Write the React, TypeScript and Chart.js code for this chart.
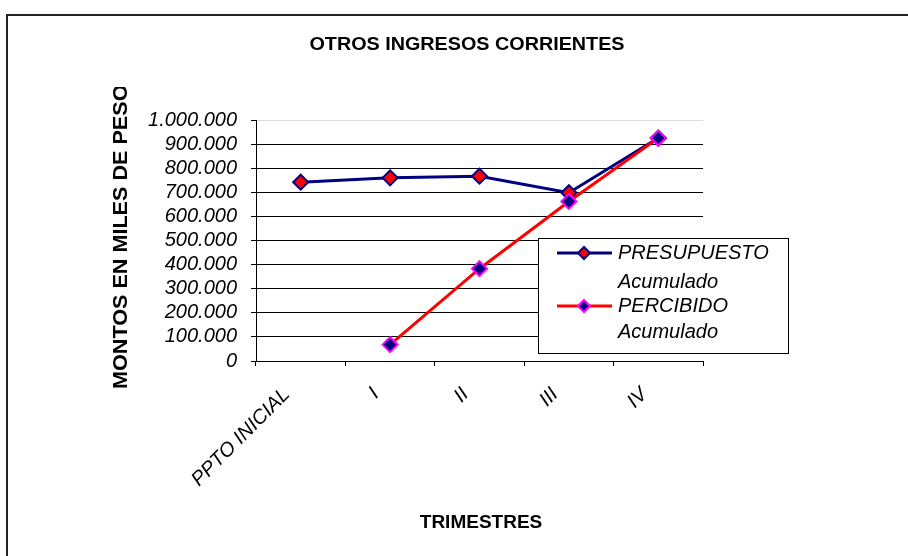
import React, { useEffect, useRef } from 'react';
import { Chart, registerables } from 'chart.js';

Chart.register(...registerables);

const categories = ['PPTO INICIAL', 'I', 'II', 'III', 'IV'];
const presupuesto = [742000, 760000, 767000, 698000, 925000];
const percibido = [null, 68000, 383000, 662000, 925000];
const seriesNames = ['PRESUPUESTO Acumulado', 'PERCIBIDO Acumulado'];
const legendLines = [
  ['PRESUPUESTO', 'Acumulado'],
  ['PERCIBIDO', 'Acumulado'],
];
const chartTitle = 'OTROS INGRESOS CORRIENTES';
const xTitle = 'TRIMESTRES';
const yTitle = 'MONTOS EN MILES DE PESOS';

const FONT = '"Liberation Sans", Arial, sans-serif';
const NAVY = '#000080';
const RED = '#FF0000';
const MAGENTA = '#FF00FF';

function fmt(v: number): string {
  const s = Math.round(v).toString();
  return s.replace(/\B(?=(\d{3})+(?!\d))/g, '.');
}

function diamond(ctx: CanvasRenderingContext2D, x: number, y: number, r: number, fill: string, stroke: string) {
  ctx.beginPath();
  ctx.moveTo(x - r, y);
  ctx.lineTo(x, y - r);
  ctx.lineTo(x + r, y);
  ctx.lineTo(x, y + r);
  ctx.closePath();
  ctx.fillStyle = fill;
  ctx.fill();
  ctx.lineWidth = 2;
  ctx.strokeStyle = stroke;
  ctx.stroke();
}

const deco = {
  id: 'deco',
  beforeDraw(chart: any) {
    const ctx = chart.ctx as CanvasRenderingContext2D;
    ctx.save();
    ctx.fillStyle = '#fff';
    ctx.fillRect(0, 0, chart.width, chart.height);
    ctx.fillStyle = '#222';
    ctx.fillRect(6, 14, chart.width - 6, 2);
    ctx.fillRect(6, 14, 2, chart.height - 14);
    ctx.restore();
  },
  afterDraw(chart: any) {
    const ctx = chart.ctx as CanvasRenderingContext2D;
    ctx.save();
    ctx.fillStyle = '#000';
    ctx.textBaseline = 'middle';
    ctx.textAlign = 'center';
    ctx.font = `bold 19px ${FONT}`;
    ctx.save();
    ctx.translate(467, 45);
    ctx.scale(1.04, 1);
    ctx.fillText(chartTitle, 0, 0);
    ctx.restore();
    ctx.fillText(xTitle, 481, 523);

    // y axis title (clipped at top like the original)
    ctx.save();
    ctx.beginPath();
    ctx.rect(0, 87, 250, 420);
    ctx.clip();
    ctx.translate(121, 389);
    ctx.rotate(-Math.PI / 2);
    ctx.scale(1.08, 1);
    ctx.textAlign = 'left';
    ctx.font = `bold 20px ${FONT}`;
    ctx.fillText(yTitle, 0, 0);
    ctx.restore();

    // legend
    const bx = 538, by = 238, bw = 250, bh = 115;
    ctx.fillStyle = '#fff';
    ctx.fillRect(bx, by, bw, bh);
    ctx.strokeStyle = '#000';
    ctx.lineWidth = 1;
    ctx.strokeRect(bx + 0.5, by + 0.5, bw, bh);
    const rows = [
      { y: 253, y2: 282, line: NAVY, fill: RED, stroke: NAVY },
      { y: 306, y2: 332, line: RED, fill: NAVY, stroke: MAGENTA },
    ];
    rows.forEach((r, i) => {
      ctx.beginPath();
      ctx.strokeStyle = r.line;
      ctx.lineWidth = 3;
      ctx.moveTo(557, r.y);
      ctx.lineTo(612, r.y);
      ctx.stroke();
      diamond(ctx, 584, r.y, 6, r.fill, r.stroke);
      ctx.fillStyle = '#000';
      ctx.font = `italic 20px ${FONT}`;
      ctx.textAlign = 'left';
      ctx.textBaseline = 'middle';
      ctx.fillText(legendLines[i][0], 618, r.y);
      ctx.fillText(legendLines[i][1], 618, r.y2);
    });
    ctx.restore();
  },
};

export default function App() {
  const ref = useRef<HTMLCanvasElement | null>(null);
  useEffect(() => {
    if (!ref.current) return;
    const chart = new Chart(ref.current, {
      type: 'line',
      data: {
        labels: categories,
        datasets: [
          {
            label: seriesNames[0],
            data: presupuesto,
            borderColor: NAVY,
            backgroundColor: RED,
            borderWidth: 3,
            pointStyle: 'rectRot',
            pointRadius: 7.5,
            pointBackgroundColor: RED,
            pointBorderColor: NAVY,
            pointBorderWidth: 2,
            tension: 0,
            order: 1,
            clip: false as any,
          },
          {
            label: seriesNames[1],
            data: percibido,
            borderColor: RED,
            backgroundColor: NAVY,
            borderWidth: 3,
            pointStyle: 'rectRot',
            pointRadius: 7.5,
            pointBackgroundColor: NAVY,
            pointBorderColor: MAGENTA,
            pointBorderWidth: 2,
            tension: 0,
            order: 0,
            clip: false as any,
          },
        ],
      },
      options: {
        animation: false,
        responsive: false,
        layout: { padding: { left: 0, top: 120, right: 205, bottom: 0 } },
        plugins: {
          legend: { display: false },
          tooltip: { enabled: false },
          title: { display: false },
        },
        scales: {
          x: {
            type: 'category',
            offset: true,
            afterFit: (s: any) => { s.height = 195; },
            grid: {
              offset: true,
              drawOnChartArea: false,
              drawTicks: true,
              tickLength: 5,
              tickColor: '#000',
            },
            border: { color: '#000', width: 1 },
            ticks: {
              autoSkip: false,
              minRotation: 45,
              maxRotation: 45,
              color: '#000',
              padding: 17,
              labelOffset: -14,
              font: { family: FONT, size: 20, style: 'italic' },
            },
          },
          y: {
            min: 0,
            max: 1000000,
            afterFit: (s: any) => { s.width = 256; },
            grid: {
              color: (c: any) => (c.tick && c.tick.value === 1000000 ? '#dddddd' : '#000'),
              tickColor: '#000',
              tickLength: 5,
            },
            border: { color: '#000', width: 1 },
            ticks: {
              stepSize: 100000,
              autoSkip: false,
              color: '#000',
              padding: 14,
              font: { family: FONT, size: 20, style: 'italic' },
              callback: (v: any) => fmt(Number(v)),
            },
          },
        },
      },
      plugins: [deco],
    });
    return () => chart.destroy();
  }, []);
  return (
    <div style={{ position: 'absolute', left: 0, top: 0, width: 908, height: 556, background: '#fff' }}>
      <canvas ref={ref} width={908} height={556} style={{ width: 908, height: 556, display: 'block' }} />
    </div>
  );
}
